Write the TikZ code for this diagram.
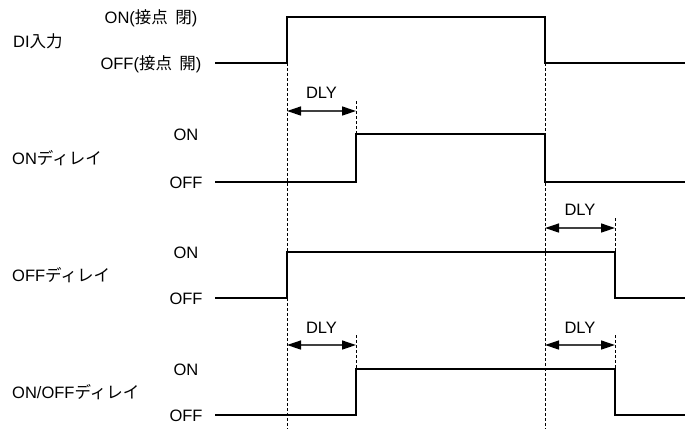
\documentclass[tikz,border=0pt]{standalone}
\usepackage{fontspec}
\setmainfont{Liberation Sans}
\newfontfamily\jp{Noto Sans CJK JP}
\usetikzlibrary{arrows.meta}
\begin{document}
\begin{tikzpicture}[x=1pt,y=-1pt,
  sig/.style={line width=1.8pt, line join=miter},
  guide/.style={line width=0.8pt, dash pattern=on 3pt off 2pt},
  dlyarrow/.style={line width=1.3pt, draw=black!75,
    {Triangle[length=14pt,width=9pt,color=black]}-{Triangle[length=14pt,width=9pt,color=black]}},
  lbl/.style={font=\fontsize{16.5}{19}\selectfont, inner sep=0pt, anchor=base},
  lblw/.style={lbl, anchor=base west},
]
\useasboundingbox (0,0) rectangle (692,429);

% ---- labels
\node[lblw] (di) at (13,47) {DI{\jp 入力}};
\node[lbl] (dion) at (151,23) {ON({\jp 接点}\hspace{0.45em}{\jp 閉})};
\node[lbl] (dioff) at (151,69) {OFF({\jp 接点}\hspace{0.45em}{\jp 開})};

\node[lblw] (ond) at (12,164) {ON{\jp ディレイ}};
\node[lbl] (ondon) at (186,140) {ON};
\node[lbl] (ondoff) at (186,188) {OFF};

\node[lblw] (offd) at (12,281) {OFF{\jp ディレイ}};
\node[lbl] (offdon) at (186,258) {ON};
\node[lbl] (offdoff) at (186,304) {OFF};

\node[lblw] (onoffd) at (12,398) {ON/OFF{\jp ディレイ}};
\node[lbl] (onoffdon) at (186,375) {ON};
\node[lbl] (onoffdoff) at (186,421) {OFF};

% ---- key coordinates
\coordinate (t0) at (287,63);
\coordinate (t1) at (545,63);
\coordinate (b0) at (287,429);
\coordinate (b1) at (545,429);
\coordinate (d1a) at (356,101);
\coordinate (d1b) at (356,134);
\coordinate (d2a) at (615,218);
\coordinate (d2b) at (615,252);
\coordinate (d3a) at (356,335);
\coordinate (d3b) at (356,369);
\coordinate (d4a) at (615,335);
\coordinate (d4b) at (615,369);

% ---- guides
\draw[guide] (t0) -- (b0);
\draw[guide] (t1) -- (b1);
\draw[guide] (d1a) -- (d1b);
\draw[guide] (d2a) -- (d2b);
\draw[guide] (d3a) -- (d3b);
\draw[guide] (d4a) -- (d4b);

% ---- waveforms
\draw[sig] (215,63) -- (287,63) -- (287,17) -- (545,17) -- (545,63) -- (685,63);
\draw[sig] (215,182) -- (356,182) -- (356,134) -- (545,134) -- (545,182) -- (685,182);
\draw[sig] (215,298) -- (287,298) -- (287,252) -- (615,252) -- (615,298) -- (685,298);
\draw[sig] (215,415) -- (356,415) -- (356,369) -- (615,369) -- (615,415) -- (685,415);

% ---- delay arrows
\coordinate (a1l) at (287,111); \coordinate (a1r) at (356,111);
\coordinate (a2l) at (545,228); \coordinate (a2r) at (615,228);
\coordinate (a3l) at (287,345); \coordinate (a3r) at (356,345);
\coordinate (a4l) at (545,345); \coordinate (a4r) at (615,345);
\draw[dlyarrow] (a1l) -- (a1r);
\draw[dlyarrow] (a2l) -- (a2r);
\draw[dlyarrow] (a3l) -- (a3r);
\draw[dlyarrow] (a4l) -- (a4r);
\node[lbl] (dly1) at (321.5,98) {DLY};
\node[lbl] (dly2) at (580,215) {DLY};
\node[lbl] (dly3) at (321.5,333) {DLY};
\node[lbl] (dly4) at (580,333) {DLY};
\end{tikzpicture}
\end{document}
